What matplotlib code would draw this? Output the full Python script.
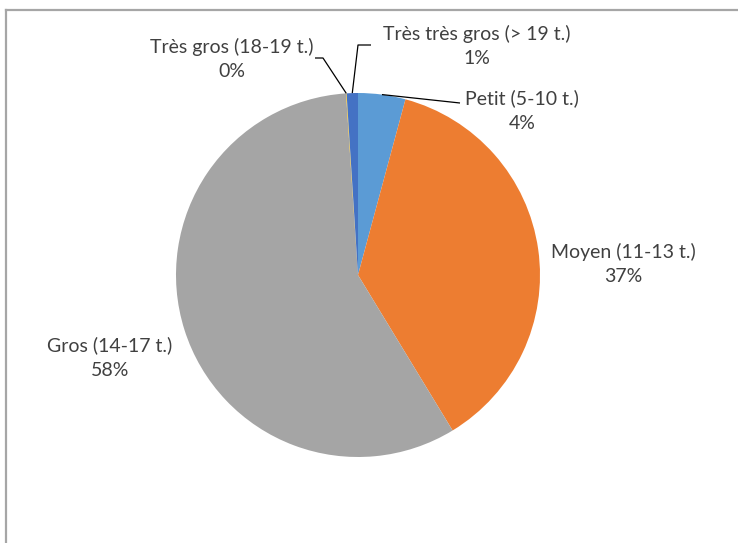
import numpy as np
import matplotlib.pyplot as plt
from matplotlib.lines import Line2D

# slice data (clockwise from 12 o'clock)
categories = ['Petit (5-10 t.)', 'Moyen (11-13 t.)', 'Gros (14-17 t.)',
              'Très gros (18-19 t.)', 'Très très gros (> 19 t.)']
shares = [4.2, 37.1, 57.65, 0.05, 1.0]
pct_labels = ['4%', '37%', '58%', '0%', '1%']
colors = ['#5B9BD5', '#ED7D31', '#A5A5A5', '#FFC000', '#4472C4']

W, H = 738, 543
plt.rcParams['font.family'] = ['Lato', 'DejaVu Sans']

fig = plt.figure(figsize=(W / 100, H / 100), dpi=100)
ax = fig.add_axes([0, 0, 1, 1])

cx, cy, r = 358, H - 275, 182
wedges, _ = ax.pie(shares, colors=colors, startangle=90, counterclock=False,
                   center=(cx, cy), radius=r, frame=True,
                   wedgeprops=dict(linewidth=0))
ax.set_xlim(0, W)
ax.set_ylim(0, H)
ax.set_aspect('equal')
ax.axis('off')

# label text centres (pixels from top-left) and elbow points of leader lines
label_pos = [(522, 111), (623, 264), (110, 358), (232, 59), (477, 46)]
leaders = {
    0: [(460, 103)],
    3: [(323, 58), (315, 58)],
    4: [(358, 45), (371, 45)],
}

total = sum(shares)
cum = np.cumsum([0] + shares)
for i, (name, pct) in enumerate(zip(categories, pct_labels)):
    lx, ly = label_pos[i]
    ax.text(lx, H - ly, name + '\n' + pct, ha='center', va='center',
            fontsize=14, color='#404040', linespacing=1.55)
    if i in leaders:
        mid = (cum[i] + cum[i + 1]) / 2 / total
        ang = np.deg2rad(90 - 360 * mid)
        pts = [(cx + r * np.cos(ang), cy + r * np.sin(ang))]
        pts += [(x, H - y) for x, y in leaders[i]]
        xs, ys = zip(*pts)
        ax.plot(xs, ys, color='black', lw=0.9, solid_capstyle='butt')

# chart area border (only top and left visible in the crop)
fig.add_artist(Line2D([6.5 / W, 6.5 / W], [0, 1 - 9.5 / H],
                      transform=fig.transFigure, color='#A6A6A6', lw=1.6))
fig.add_artist(Line2D([6.5 / W, 1], [1 - 9.5 / H, 1 - 9.5 / H],
                      transform=fig.transFigure, color='#A6A6A6', lw=1.6))

fig.savefig('out.png', dpi=100, facecolor='white')
